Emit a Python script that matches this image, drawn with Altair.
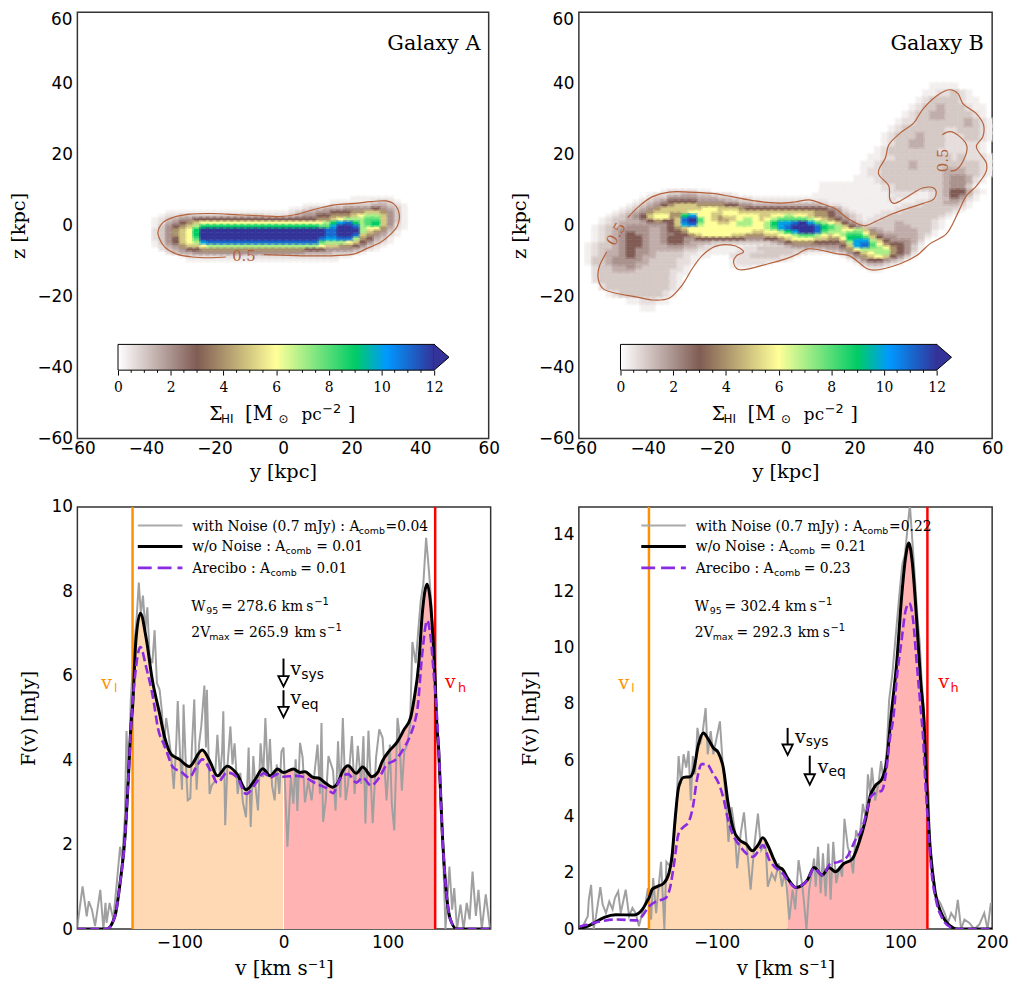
import altair as alt
import pandas as pd

# ---------- shared colour ramp ----------
RAMP_VALUES = [0, 3, 6, 9, 10.2, 12]
RAMP_COLORS = ["#ffffff", "#805c54", "#ffff99", "#00cc66", "#0099ff", "#333399"]
LEVELS = dict(zip("0123456789abcdef", [0, .3, .6, 1, 1.5, 2, 3, 4, 5, 6, 7, 8, 9, 10, 11, 12]))

# ---------- Galaxy A surface density: (z top, height, [(first column, codes)]) ; columns 2 kpc from y=-40
MAP_A = [
 (8,1,[(30,"111111")]),
 (7,1,[(27,"1111112321")]),
 (6,1,[(23,"111122333344321")]),
 (5,1,[(21,"11233444555565431")]),
 (4,1,[(3,"111111111111111111"+"23445566677887531")]),
 (3,1,[(2,"122"+"333333333333"+"2222"+"34556677789aa8531")]),
 (2,1,[(1,"123455"+"66666666666666"+"66667789aaabb8531")]),
 (1,1,[(1,"1245678"+"99999999999999999"+"9acdecabc8521")]),
 (0,1,[(1,"135678a"+"ccccccccccccccccc"+"bbdffea997421")]),
 (-1,1,[(1,"235789c"+"fffffffffffffffff"+"feefffa87531")]),
 (-2,1,[(1,"235789c"+"fffffffffffffffff"+"feeffe875421")]),
 (-3,1,[(1,"235689b"+"fffffffffffffffff"+"eddeea76431")]),
 (-4,1,[(1,"135689ad"+"eeeeeeeeeeeeeeee"+"baaa9865321")]),
 (-5,1,[(1,"12457889"+"aaaaaaaaaaaaaaaa"+"9887765321")]),
 (-6,1,[(2,"2345667"+"77777777777777"+"66655554321")]),
 (-7,1,[(3,"23445"+"555555555555555"+"444433321")]),
 (-8,1,[(5,"1"+"2222222222222222222222"+"11")]),
 (-9,1,[(6,"1111111111111111111111")]),
]

# ---------- Galaxy B surface density ; columns 2 kpc from y=-60
MAP_B = [
 (40,2,[(51,"1111")]),
 (38,2,[(50,"1122321")]),
 (36,2,[(49,"123333211")]),
 (34,2,[(48,"12334333211")]),
 (32,2,[(47,"123344333321")]),
 (30,2,[(46,"12233333334321")]),
 (28,2,[(45,"123333332233321")]),
 (26,2,[(44,"1233343332223321")]),
 (24,2,[(44,"123344333222221")]),
 (22,2,[(43,"1233333332222221")]),
 (20,2,[(42,"112233333333232221")]),
 (18,2,[(41,"1123333433333333321")]),
 (16,2,[(41,"1223333333334443321")]),
 (14,2,[(40,"1112333333333455421")]),
 (12,2,[(35,"11111111122333333345531")]),
 (10,1,[(12,"1222211"),(35,"1111111111"),(45,"222211"+"23466421")]),
 (9,1,[(10,"1223344332221"),(34,"111111111111"+"22111"+"2346531")]),
 (8,1,[(9,"123355554443322211"+"111111111111111111"+"2"+"11111"+"2335421")]),
 (7,1,[(8,"12345666655554433"+"22222222222"+"1111111111111"+"22334431")]),
 (6,1,[(7,"12345678887777665544"+"444444443"+"22"+"111111111"+"2223333321")]),
 (5,1,[(6,"123457888888998887666"+"666666666"+"542"+"1111111"+"223"+"33333"+"21")]),
 (4,1,[(5,"12345788778999889988"+"888888888"+"776532"+"1111"+"222"+"333333"+"21")]),
 (3,1,[(4,"123456"+"899"+"77"+"cd"+"99"+"87"+"88"+"999"+"88"+"99"+"a"+"99"+"8"+"77"+"654321"+"1"+"22"+"3333333"+"21")]),
 (2,1,[(3,"12334456766"+"8efb9877"+"89a98"+"9abbbba98765"+"321"+"22"+"3333333"+"21")]),
 (1,1,[(3,"1234444"+"555"+"68dea99889aa99"+"acddefdba9865"+"3223334333321")]),
 (0,1,[(2,"12334555445678"+"99999999999"+"abdefffecba865"+"33333"+"44"+"333"+"21")]),
 (-1,1,[(2,"12345555445667"+"999999999"+"8899acdffebaa99a85"+"433"+"444"+"33"+"1")]),
 (-2,1,[(2,"1234565544556678"+"9999"+"8877788"+"99"+"abba"+"98"+"9abb"+"975"+"44444"+"321")]),
 (-3,1,[(2,"123456654456655"+"6666666"+"55566789998877"+"9ccb86"+"55"+"444"+"31")]),
 (-4,1,[(2,"123456654456654"+"44"+"333333333"+"4567776666"+"7adda8655542")]),
 (-5,1,[(1,"1233456654445544322"+"1111111"+"2234"+"5555555"+"68deb97"+"66531")]),
 (-6,1,[(1,"1233456554444433221111122"+"3333333333"+"44579aaa976531")]),
 (-7,1,[(1,"1234456554333322"+"111111"+"2222"+"3333"+"22"+"1111"+"235689aa7652")]),
 (-8,1,[(1,"123445654433332111"),(22,"2223333221"),(38,"13578986531")]),
 (-9,1,[(1,"1334555543333221"),(22,"122222221"),(39,"135665431")]),
 (-10,1,[(1,"1334555443333221"),(22,"122221"),(40,"1344321")]),
 (-11,1,[(2,"23344543333321"),(22,"111"),(41,"1221")]),
 (-12,1,[(2,"23344433333221"),(42,"11")]),
 (-13,1,[(2,"233333333332"+"11")]),
 (-14,2,[(2,"233333333332"+"1")]),
 (-16,2,[(3,"233333333321")]),
 (-18,2,[(4,"1233333321")]),
 (-20,2,[(7,"112211")]),
 (-22,2,[(9,"11")]),
]

# ---------- 0.5 contours (y, z)
CONT_A = [[(-5.6,-8.2),(3.5,-8.5),(9.3,-8.6),(15.1,-8.5),(20.9,-8.0),(24.7,-6.4),(28.6,-4.7),(31.5,-2.4),(33.4,-.1),(33.9,3.2),
           (32.4,6.0),(30.0,6.9),(25.7,6.7),(20.9,6.23),(15.1,5.77),(9.3,4.56),(3.5,3.0),(-1.3,2.5),(-6.1,2.7),(-12.9,2.98),
           (-20.6,3.35),(-27.3,3.16),(-32.1,2.23),(-35.0,.84),(-36.5,-1.95),(-36.0,-3.8),(-34.5,-6.1),(-31.2,-8.0),(-26.4,-8.9),(-21.5,-9.1),(-16.7,-8.9)]]
CONT_B = [[(-45.8,2.2),(-42.4,5.5),(-38.6,8.1),(-33.8,9.4),(-28.1,9.4),(-21.3,9.0),(-15.6,8.1),(-8.9,6.9),(-2.2,6.3),(2.6,6.6),(6.95,7.2),
           (10.3,6.2),(14.6,4.6),(18,2.0),(22.8,-.1),(26.6,1.3),(30.9,3.2),(36.2,5.0),(40,6.2),(43.1,7.5),(43.7,9.7),(42.9,10.6),(40,10.6),
           (37.2,9.2),(33.3,6.9),(31.4,6.2),(30.3,7.4),(30,11.1),(27.1,14.3),(27.1,15.7),(29,19),(30,22.7),(33.3,26),(37.2,28.8),(40,32.9),
           (44.8,37.1),(47.7,38.2),(50.1,37.1),(51.5,34.3),(55.4,31.5),(57.5,28.3),(57.3,25),(55.4,22.2),(58.3,17.6),(58.3,15.3),(55.4,11.1),
           (52.5,8.3),(50.1,3.6),(46.7,-2.4),(41.9,-5.2),(38.1,-8.5),(33.3,-10.8),(25.6,-12.6),(23.7,-12.2),(18.5,-8.5),(15.1,-8),(6.5,-6.6),
           (3.6,-8),(.7,-9.2),(-5,-10.8),(-13.7,-12.4),(-15.1,-10.3),(-14.2,-8.5),(-12.2,-7.5),(-13.2,-6.4),(-16.1,-5.5),(-20.4,-5.9),(-24.2,-8.5),
           (-27.1,-12.2),(-30,-16.8),(-33.8,-20.5),(-38.6,-21),(-43.4,-20.1),(-49.2,-19.1),(-53,-17.8),(-54.4,-15),(-54.1,-11.7),(-51.9,-7.5)],
          [(45.5,25.5),(47.7,26.4),(50.6,25),(52.7,22.2),(51.5,18),(49.6,15.7),(47.9,15.3)]]

# ---------- spectra, Galaxy A
NOISE_A_V = [-198.4,-193,-189,-187,-184,-181,-176,-173,-171,-170,-167,-163.5,-160,-157,-155,-152.4,-150.8,-149,-147.6,-146.7,-143.5,-141,-139,-137,-135,-132.7,-130.8,-128.6,-126,-123.8,-121.6,-119,-116.8,-115,-112.7,-110,-108,-105.4,-103,-101.6,-99.5,-97.5,-96,-94,-92,-89.5,-88,-85.7,-83.5,-81,-79,-76,-74.5,-73.6,-71,-69,-66,-63.5,-61,-59,-57.8,-56,-54,-51,-49,-47,-44,-41.5,-39,-36,-33.5,-31.5,-29,-27,-24.5,-22,-19.5,-17.4,-15,-13,-11,-8.5,-6.5,-4,-2,0,3.8,7,9.5,11.7,13.3,15.9,18.4,20.6,23.8,27,30,32.7,35,36.5,38,40.6,43.2,47.6,50,52.4,54.6,57,59.7,62,65.7,68.3,71.4,74.6,76.8,78.7,81.6,85.7,88.9,92,95.2,99,102.2,104,106.4,109.5,111,113.7,116,119,121.6,123.8,127,129.5,131.8,134.3,137,139.7,142,144.5,147,149.2,152.4,155.6,159.4,162,164,166.7,170,173,176,178.8,181.6,184.8,187.3,190.5,194.3,198.4]
NOISE_A_F = [0,1.01,.3,.66,.46,.07,.93,0,.62,.15,.62,.23,1.13,1.95,1.64,2.65,4.69,3.44,4.6,5.44,6.69,7.39,8.21,7.47,7.9,7.08,7.62,6.45,6.3,7.08,5.83,5.67,5.16,4.3,5,4.53,4.1,3.32,4.4,5.4,4.2,3.3,5.32,4,3.05,3.1,4.3,5.44,3.3,4.4,4.8,5.77,4.3,5.67,3.2,3.4,3.5,4.6,3.6,4.2,5.16,2.46,3.8,4.8,3.9,4.4,3.2,3.7,3,2.65,4.3,2.42,4.1,3.4,2.81,4.4,3.6,5,3.6,4.5,3.4,3.05,3.9,3.2,4.2,4.3,1.95,3.6,2.97,4.02,2.8,4.41,4.06,3,3.5,3.05,3.75,4.37,3.2,4.88,2.54,3.05,4.1,3.75,2.81,4.45,3.12,5,3.05,3.44,4.57,3.2,4.34,3.44,4.57,2.5,4.7,2.51,4.06,4.73,4.53,3.05,4.37,2.97,2.34,5,4.7,3.28,4.2,4.37,4.84,6.8,6.3,7.08,7.78,8.17,9.27,8.49,7.7,6.53,5.05,3.98,2.5,0,1.48,.46,.97,0,.58,0,.62,.23,1.36,.31,.93,0,.82,0]
SMOOTH_A_V = [-198,-170,-162,-157,-152,-149,-146,-145,-142,-137.5,-132,-126,-119,-114,-108,-100,-90.5,-78,-71,-63.5,-54,-44.6,-35.9,-27,-20,-12.7,-5.7,0,9.5,15.9,20.6,28.6,33.3,41.3,47,52.4,57,62,69.9,76,85,90.5,95,101.6,109.5,115.9,122,125.4,130,133.3,138,141.3,144.5,145.7,147,149.2,152.4,155.6,160.3,166.7,199]
SMOOTH_A_F = [0,0,.3,1.09,2.26,3.59,5,5.25,6.76,7.48,6.9,5.9,5.1,4.53,4.14,4.02,3.85,4.24,3.99,3.63,3.86,3.67,3.3,3.55,3.8,3.63,3.79,3.71,3.79,3.71,3.73,3.59,3.58,3.44,3.36,3.47,3.75,3.87,3.69,3.84,3.61,3.71,3.98,4.22,4.44,4.73,5,5.44,6.3,7.47,8.17,7.7,6.5,5.9,5,4.2,2.34,1.09,.23,0,0]
ARE_A_V = [-198,-170,-162,-157,-152,-149,-146,-143,-137.5,-132,-125,-120.6,-114,-106,-98.6,-90.5,-84,-78,-70,-63.5,-54,-44.4,-35.9,-27,-19,-12.7,-5.7,0,12.7,20.6,31.8,41.3,47.6,54,62,70,76,84,92,98.4,108,116,122,127,128.6,133.3,138,141.3,144.5,147.6,149.2,152.4,155.6,160.3,166.7,199]
ARE_A_F = [0,0,.3,1.09,2.26,3.59,5,5.9,6.68,6.21,5.43,4.76,4.33,3.83,3.73,3.59,3.83,4.02,3.75,3.47,3.71,3.59,3.2,3.44,3.69,3.59,3.67,3.61,3.63,3.59,3.44,3.34,3.22,3.55,3.67,3.47,3.59,3.4,3.59,3.87,4.02,4.3,4.6,5,5.2,6.53,7.31,6.92,5.98,4.97,4.2,2.34,1.09,.23,0,0]

# ---------- spectra, Galaxy B
NOISE_B_V = [-249.3,-245.7,-240.3,-239.2,-236.7,-233.8,-231.3,-226.6,-224.1,-220.5,-216.9,-213.3,-210.8,-207.2,-204.4,-199,-195.3,-191.7,-188.2,-184.6,-181,-177.4,-174.8,-171.3,-169.1,-165.9,-160.5,-156.9,-154.7,-150.4,-146.8,-143.9,-141.4,-138.8,-136,-133.1,-130.6,-128.1,-125.9,-123.4,-120.9,-118,-115.5,-112,-109.7,-106.5,-103.6,-100,-96.4,-93.6,-90,-87.1,-83.8,-80.2,-77.7,-73.8,-70.2,-67,-63,-58.7,-55,-51.5,-46.8,-44.3,-40,-36.4,-32.4,-28.8,-26.3,-23.7,-20.9,-17.3,-14.4,-10.8,-6.5,-2.2,.7,3.6,6.1,7.9,10.4,13.3,15.8,18.7,21.6,24.1,27,30.2,33.8,36.7,39.2,42.8,45.7,48.6,51.8,55.4,59.3,62.6,64.7,67.3,69,72.6,76.2,79.1,81.6,85.2,87.8,91.4,94.2,99.6,102.2,105,107.9,110.4,112.9,115.1,118.7,121.2,123,126.6,127.3,130.9,132,135.6,138.5,143.5,148.2,151.8,155.4,159.7,162.6,166.2,169.8,175.2,180.6,186,191.4,195,198.6]
NOISE_B_F = [0,.1,.46,1.04,1.57,0,.46,1.49,.87,.57,.98,.7,1.1,1.34,.57,1.4,.46,.75,.57,.1,.57,.93,1.45,.34,1.81,.57,2.39,0,2.39,2.22,3.16,4.21,6.15,5.15,6.21,5.74,6.33,4.57,6.15,5.5,7.15,6.56,6.91,7.85,6.21,7.03,6.21,6.8,7.38,5.97,4.68,3.1,4.33,3.51,2.16,3.39,4.15,2.92,1.4,3.04,4.1,2.8,3.04,1.51,1.98,1.75,2.33,1.51,1.98,1.51,.34,1.4,.7,2.45,1.51,0,1.4,1.98,2.51,1.51,2.92,1.28,2.69,1.16,3.04,1.04,3.1,1.63,2.22,1.86,3.92,2.92,2.57,1.98,3.51,3.16,4.45,3.86,5.5,4.8,5.74,4.57,5.15,5.97,5.27,6.33,8.14,9.08,10.14,12.1,12.96,13.3,14.25,15.07,13.9,12.84,11.08,10.14,8.97,7.32,5.74,4.8,3.04,2.1,1.16,.93,.57,.22,.57,.34,1.04,0,.34,.22,0,.16,.57,0,.93]
SMOOTH_B_V = [-250,-236.7,-222.3,-209.7,-190,-181,-174.8,-173.7,-170,-164.8,-157.6,-152,-148.6,-145,-141.4,-136,-128.8,-125.2,-119.8,-114.4,-109,-103.6,-98.2,-92.8,-87.4,-82,-74.8,-67.7,-61.2,-55,-49.7,-44.3,-38.9,-33.5,-28,-22.7,-13.7,-1.1,6.1,15.1,22.3,29.5,38.5,47.5,54.7,61.9,67.3,72.7,79.9,85.2,89.9,96,101.4,105.7,109.3,112.9,117.6,122.3,125.9,127.5,129.5,132.7,138.1,144.6,153.6,162.6,200]
SMOOTH_B_F = [0,.16,.42,.51,.5,.69,1.04,1.1,1.42,1.51,1.63,1.98,2.57,3.98,5.03,5.39,5.41,5.62,6.56,6.97,6.74,6.44,6.27,5.74,4.45,3.57,3.16,3.02,2.78,2.98,3.25,2.98,2.57,2.22,2.12,1.81,1.48,1.75,2.19,1.92,2.19,2.04,2.33,2.48,3.04,3.86,4.74,5.09,5.33,5.97,7.56,9.43,11.8,13.2,13.72,13.07,11.08,8.73,7.32,6,4.57,2.8,1.28,.57,.13,0,0]
ARE_B_V = [-250,-236.7,-222.3,-209.7,-186.4,-181,-173.8,-166.6,-155.8,-150.4,-146.8,-141.4,-136,-130.6,-125.9,-121.6,-116.2,-110.8,-103.6,-98.2,-92.8,-87.4,-82,-76.6,-67.7,-60.5,-55,-49.7,-42.5,-37.1,-28.1,-22.7,-13.7,-1.1,6.1,15.1,24.1,33.1,42.1,51,58.3,63.7,67.3,74.5,79.9,84.2,88.8,92.4,96,101.4,105.7,109.7,114,117.6,122.3,124.8,127.3,130.2,133.8,139.2,146.4,155.4,162.6,200]
ARE_B_F = [.08,.2,.3,.34,.31,.46,.8,.97,1.1,1.51,2.22,3.39,3.63,3.8,4.33,5.27,5.86,5.86,5.5,5.21,4.68,3.86,3.33,3.04,2.69,2.57,2.75,2.98,2.45,2.22,1.98,1.75,1.48,1.75,2.16,1.92,2.33,2.39,2.57,3.16,3.57,4.21,4.68,4.86,4.92,5.5,6.8,7.5,8.85,10.26,11.31,11.58,10.96,9.55,7.79,6.8,5.15,3.74,2.1,.98,.34,.05,0,0]

VL_A, VH_A, SPLIT_A = -145, 145.7, 0
VL_B, VH_B, SPLIT_B = -173.7, 129.5, -22.7
LEGEND_A = ["=0.04", "= 0.01", "= 0.01"]
LEGEND_B = ["=0.22", "= 0.21", "= 0.23"]
W95_A, VMAX_A = "= 278.6", "= 265.9"
W95_B, VMAX_B = "= 302.4", "= 292.3"

SERIF, SANS = "DejaVu Serif", "DejaVu Sans"
FRAME = "#333333"
ORANGE, RED, PURPLE, SIENNA = "#ff9000", "#ff0000", "#8a2be2", "#b4623c"
AX = dict(domain=False, ticks=False, grid=False, labelFont=SANS, labelFontSize=17, labelFlush=False, labelOverlap=False,
          titleFont=SERIF, titleFontWeight="normal", titleColor="black", labelColor="black")


def cells(rows, y0):
    out = []
    for ztop, h, segs in rows:
        for start, codes in segs:
            for i, ch in enumerate(codes):
                if ch != "0":
                    x = y0 + 2 * (start + i)
                    out.append(dict(y0=x, y1=x + 2, z0=ztop - h, z1=ztop, val=LEVELS[ch]))
    return pd.DataFrame(out).sort_values("val", kind="stable")


def texts(pieces, xscale, yscale, xa, ya):
    df = pd.DataFrame(pieces, columns=["x", "y", "t", "s", "f", "c"])
    layers = []
    for font, sub in df.groupby("f"):
        layers.append(alt.Chart(sub).mark_text(font=font, align="left", baseline="alphabetic", clip=False).encode(
            x=alt.X("x:Q", scale=xscale, axis=xa), y=alt.Y("y:Q", scale=yscale, axis=ya),
            text="t:N", size=alt.Size("s:Q", scale=None),
            color=alt.Color("c:N", scale=None)))
    return alt.layer(*layers)


def map_panel(title, rows, y0, conts, labels, cb_range, w, zpad):
    sx = alt.Scale(domain=[-60, 60], nice=False)
    sy = alt.Scale(domain=[-60, 60], nice=False)
    xa = alt.Axis(title="y [kpc]", values=[-60, -40, -20, 0, 20, 40, 60], labelPadding=2, titlePadding=6, titleFontSize=19.5, **AX)
    ya = alt.Axis(title="z [kpc]", values=[-60, -40, -20, 0, 20, 40], labelPadding=5, titlePadding=zpad, titleFontSize=19.5, **AX)
    ramp = dict(domain=RAMP_VALUES, range=RAMP_COLORS, clamp=True, interpolate="rgb")
    col = alt.Color("val:Q", scale=alt.Scale(**ramp), legend=None)
    stk = alt.Stroke("val:Q", scale=alt.Scale(**ramp), legend=None)
    heat = alt.Chart(cells(rows, y0)).mark_rect(strokeWidth=3.5, strokeOpacity=.45).encode(
        x=alt.X("y0:Q", scale=sx, axis=xa), x2="y1:Q",
        y=alt.Y("z0:Q", scale=sy, axis=ya), y2="z1:Q", color=col, stroke=stk)
    rec = []
    for k, seg in enumerate(conts):
        for i, (a, b) in enumerate(seg):
            rec.append(dict(a=a, b=b, k=k, i=i))
    cont = alt.Chart(pd.DataFrame(rec)).mark_line(color=SIENNA, strokeWidth=1.2, interpolate="catmull-rom").encode(
        x=alt.X("a:Q", scale=sx, axis=xa), y=alt.Y("b:Q", scale=sy, axis=ya), detail="k:N", order="i:Q")
    lab = alt.Chart(pd.DataFrame(labels)).mark_text(font=SERIF, fontSize=15, color=SIENNA).encode(
        x=alt.X("a:Q", scale=sx, axis=xa), y=alt.Y("b:Q", scale=sy, axis=ya), text="t:N",
        angle=alt.Angle("r:Q", scale=None))
    top_tick = alt.Chart(pd.DataFrame({"b": [60], "t": ["60"]})).mark_text(
        font=SANS, fontSize=17, align="right", baseline="top", clip=False, color="black").encode(
        x=alt.value(-5), y=alt.Y("b:Q", scale=sy, axis=ya), text="t:N")
    gal = alt.Chart(pd.DataFrame({"a": [57.6], "b": [51], "t": [title]})).mark_text(
        font=SERIF, fontSize=21, align="right", baseline="middle", color="black").encode(
        x=alt.X("a:Q", scale=sx, axis=xa), y=alt.Y("b:Q", scale=sy, axis=ya), text="t:N")
    main = alt.layer(heat, cont, lab, gal, top_tick)

    # colour bar, on its own 0-12 scale
    cbx = alt.Scale(domain=[0, 12], range=cb_range, nice=False)
    cba = alt.Axis(orient="bottom", offset=-69, values=[0, 2, 4, 6, 8, 10, 12], title=None, labelFlush=False,
                   domain=False, ticks=True, tickSize=5, tickColor="black", tickWidth=1, grid=False, labelFont=SERIF,
                   labelFontSize=14, labelPadding=6, labelColor="black")
    stops = [alt.GradientStop(color=c, offset=v / 12) for v, c in zip(RAMP_VALUES, RAMP_COLORS)]
    grad = alt.Gradient(gradient="linear", x1=0, x2=1, y1=0, y2=0, stops=stops)
    bar = alt.Chart(pd.DataFrame({"a": [0], "a2": [12], "b": [-33.5], "b2": [-40.75]})).mark_rect(
        color=grad, stroke="black", strokeWidth=1).encode(
        x=alt.X("a:Q", scale=cbx, axis=cba), x2="a2:Q", y=alt.Y("b:Q", scale=sy, axis=ya), y2="b2:Q")
    head = alt.Chart(pd.DataFrame({"a": [12.28], "b": [-37.12]})).mark_point(
        shape="M-0.58,-1L0.58,0L-0.58,1Z", size=676, filled=True, fill="#333399", stroke="black", strokeWidth=1, opacity=1).encode(
        x=alt.X("a:Q", scale=cbx, axis=cba), y=alt.Y("b:Q", scale=sy, axis=ya))
    join = alt.Chart(pd.DataFrame({"a": [12], "b": [-33.65], "b2": [-40.6]})).mark_rule(color="#333399", strokeWidth=2).encode(
        x=alt.X("a:Q", scale=cbx, axis=cba), y=alt.Y("b:Q", scale=sy, axis=ya), y2="b2:Q")
    minor = alt.Chart(pd.DataFrame({"a": [.5, 1, 1.5, 2.5, 3, 3.5, 4.5, 5, 5.5, 6.5, 7, 7.5, 8.5, 9, 9.5, 10.5, 11, 11.5],
                                    "b": [-40.75] * 18, "b2": [-41.5] * 18})).mark_rule(color="black", strokeWidth=1).encode(
        x=alt.X("a:Q", scale=cbx, axis=cba), y=alt.Y("b:Q", scale=sy, axis=ya), y2="b2:Q")
    pieces = [(3.46, -54.7, "Σ", 19, SERIF, "black"), (3.91, -55.5, "HI", 12, SANS, "black"),
              (4.82, -54.7, "[M", 20, SERIF, "black"), (6.09, -55.5, "⊙", 12, SANS, "black"),
              (6.96, -54.7, "pc", 17, SERIF, "black"), (7.75, -52.9, "−2", 13, SANS, "black"),
              (8.73, -54.7, "]", 19, SERIF, "black")]
    cbt = texts(pieces, cbx, sy, cba, ya)
    cb = alt.layer(bar, head, join, minor, cbt)
    return alt.layer(main, cb).resolve_scale(x="independent").properties(width=w, height=430)


def spec_panel(nv, nf, sv, sf, av, af, vl, vh, split, xdom, xvals, ydom, yvals, px0, pxk, pyk, dx, leg, w95, vmax,
               arrows, extra, white, w):
    X = lambda p: (p - px0) / pxk
    Y = lambda p: (933 - p) / pyk
    sx = alt.Scale(domain=xdom, nice=False)
    sy = alt.Scale(domain=ydom, nice=False)
    xa = alt.Axis(title="v [km s⁻¹]", values=xvals, labelPadding=6, titlePadding=8, titleFontSize=20, **AX)
    ya = alt.Axis(title="F(v) [mJy]", values=yvals, labelPadding=5, titlePadding=13, titleFontSize=19, **AX)
    XE = lambda f="v:Q": alt.X(f, scale=sx, axis=xa)
    YE = lambda f="f:Q": alt.Y(f, scale=sy, axis=ya)
    smooth = pd.DataFrame({"v": sv, "f": sf})
    left = smooth[(smooth.v >= vl) & (smooth.v <= split)]
    right = smooth[(smooth.v >= split) & (smooth.v <= vh)]
    a1 = alt.Chart(left).mark_area(color="#ffd9b3", interpolate="monotone").encode(x=XE(), y=YE())
    a2 = alt.Chart(right).mark_area(color="#ffb3b3", interpolate="monotone").encode(x=XE(), y=YE())
    noise = alt.Chart(pd.DataFrame({"v": nv, "f": nf})).mark_line(color="#a0a0a0", strokeWidth=2, clip=True).encode(x=XE(), y=YE())
    vline = lambda v, c: alt.Chart(pd.DataFrame({"v": [v]})).mark_rule(color=c, strokeWidth=2.5).encode(x=XE())
    black = alt.Chart(smooth).mark_line(color="black", strokeWidth=3, interpolate="monotone", clip=True).encode(x=XE(), y=YE())
    purple = alt.Chart(pd.DataFrame({"v": av, "f": af})).mark_line(
        color=PURPLE, strokeWidth=2.6, strokeDash=[9, 4], interpolate="monotone", clip=True).encode(x=XE(), y=YE())
    layers = [a1, a2]
    if white:
        layers.append(alt.Chart(pd.DataFrame({"v": [0], "f": [0], "f2": [3.7]})).mark_rule(color="white", strokeWidth=1).encode(
            x=XE(), y=YE(), y2="f2:Q"))
    layers += [noise, vline(vl, ORANGE), vline(vh, RED), black, purple]

    # key samples
    def sample(c, py, sw, dash=None):
        kw = dict(color=c, strokeWidth=sw)
        if dash:
            kw["strokeDash"] = dash
        return alt.Chart(pd.DataFrame({"a": [X(138 + dx)], "a2": [X(183 + dx)], "b": [Y(py)]})).mark_rule(**kw).encode(
            x=XE("a:Q"), x2="a2:Q", y=YE("b:Q"))
    layers += [sample("#aaaaaa", 525.7, 2), sample("black", 547, 3), sample(PURPLE, 568.5, 2.6, [14, 6])]

    # arrows
    for v, top, tip, hc in arrows:
        layers.append(alt.Chart(pd.DataFrame({"v": [v], "b": [Y(top)], "b2": [Y(tip)]})).mark_rule(color="black", strokeWidth=2).encode(
            x=XE(), y=YE("b:Q"), y2="b2:Q"))
        layers.append(alt.Chart(pd.DataFrame({"v": [v], "b": [Y(hc)]})).mark_point(
            shape="M-1,-1L1,-1L0,1Z", size=110, filled=True, fill="white", stroke="black", strokeWidth=1.8, opacity=1).encode(
            x=XE(), y=YE("b:Q")))

    P = lambda px, py, t, s, f=SERIF, c="black": (X(px), Y(py), t, s, f, c)
    d = dx
    pieces = [P(193 + d, 531, "with Noise (0.7 mJy) : A", 14), P(361 + d, 534, "comb", 9.5, SANS), P(388 + d, 531, leg[0], 14),
              P(193 + d, 552, "w/o Noise : A", 14), P(287 + d, 555, "comb", 9.5, SANS), P(318 + d, 552, leg[1], 14),
              P(193 + d, 574, "Arecibo : A", 14), P(272 + d, 577, "comb", 9.5, SANS), P(302 + d, 574, leg[2], 14),
              P(192 + d, 612, "W", 14), P(207 + d, 615, "95", 9.5, SANS), P(222 + d, 612, w95, 14),
              P(283 + d, 612, "km", 14), P(308 + d, 612, "s", 14), P(316 + d, 606, "−1", 10, SANS),
              P(192 + d, 638, "2V", 14), P(210 + d, 641, "max", 9.5, SANS), P(234 + d, 638, vmax, 14),
              P(296 + d, 638, "km", 14), P(321 + d, 638, "s", 14), P(329 + d, 632, "−1", 10, SANS)]
    pieces += [P(*e) for e in extra]
    layers.append(texts(pieces, sx, sy, xa, ya))
    return alt.layer(*layers).properties(width=w, height=426)


A = map_panel("Galaxy A", MAP_A, -40, CONT_A, [dict(a=-11.4, b=-8.6, t="0.5", r=0)], [41, 360], 415, 8)
B = map_panel("Galaxy B", MAP_B, -60, CONT_B, [dict(a=-49.2, b=-2.4, t="0.5", r=300), dict(a=45.8, b=18.3, t="0.5", r=270)], [42, 361], 417, 9)

C = spec_panel(NOISE_A_V, NOISE_A_F, SMOOTH_A_V, SMOOTH_A_F, ARE_A_V, ARE_A_F, VL_A, VH_A, SPLIT_A,
               [-198, 199], [-100, 0, 100], [0, 10], [0, 2, 4, 6, 8, 10], 285, 1.0504, 42.6, 0, LEGEND_A, W95_A, VMAX_A,
               [(0, 660, 683, 683), (0, 692, 714, 714)],
               [(101, 691, "v", 19, SERIF, ORANGE), (114, 694, "l", 12, SANS, ORANGE),
                (448, 690, "v", 19, SERIF, RED), (461, 694, "h", 13, SANS, RED),
                (292, 677, "v", 19), (303, 681, "sys", 14, SANS),
                (292, 706, "v", 19), (303, 711, "eq", 14, SANS)], True, 417)
D = spec_panel(NOISE_B_V, NOISE_B_F, SMOOTH_B_V, SMOOTH_B_F, ARE_B_V, ARE_B_F, VL_B, VH_B, SPLIT_B,
               [-250, 200], [-200, -100, 0, 100, 200], [0, 15], [0, 2, 4, 6, 8, 10, 12, 14], 810.7, .9267, 28.4, 504, LEGEND_B, W95_B, VMAX_B,
               [(-22.7, 730, 752, 752), (1.4, 758, 782, 782)],
               [(619, 691, "v", 19, SERIF, ORANGE), (632, 694, "l", 12, SANS, ORANGE),
                (942, 690, "v", 19, SERIF, RED), (954, 694, "h", 13, SANS, RED),
                (797, 745, "v", 19), (808, 748, "sys", 14, SANS),
                (820, 775, "v", 19), (831, 779, "eq", 14, SANS)], False, 417)

chart = alt.concat(A, B, C, D, columns=2, spacing=alt.RowColnumber(row=69, column=89), bounds="flush").properties(
    padding={"left": 0, "top": -2, "right": 0, "bottom": -2}
).configure_view(stroke=FRAME, strokeWidth=1.5, fill="white")

chart.save("out.html", embed_options={"renderer": "svg", "actions": False})
